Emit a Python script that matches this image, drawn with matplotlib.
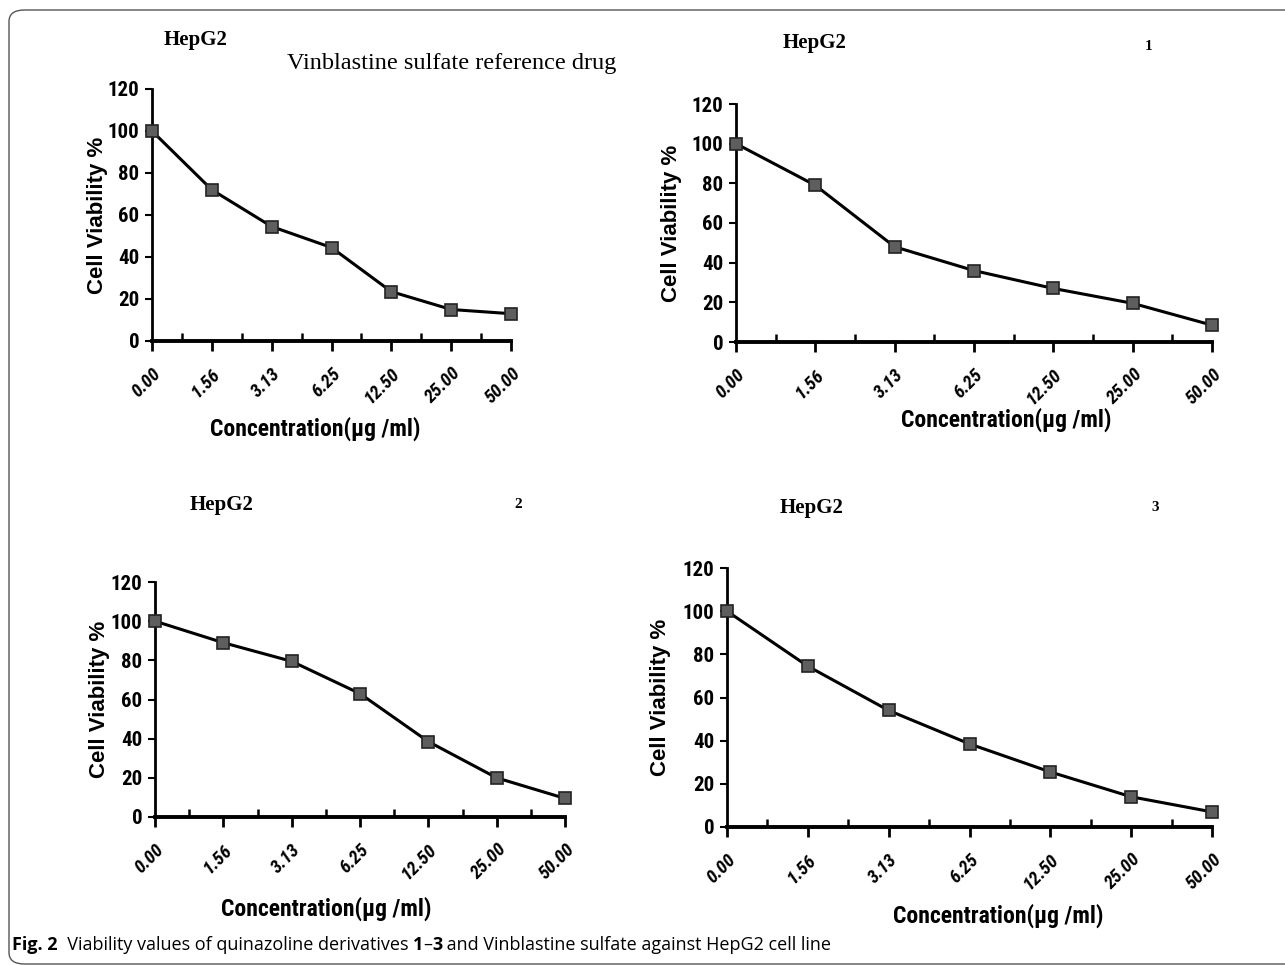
import numpy as np
import matplotlib
matplotlib.use("Agg")
import matplotlib.pyplot as plt
from matplotlib.patches import FancyBboxPatch

conc = ["0.00", "1.56", "3.13", "6.25", "12.50", "25.00", "50.00"]
vinblastine = [100, 72, 54.5, 44.5, 23.5, 15, 13]
comp1 = [100, 79, 48, 36, 27, 19.5, 8.5]
comp2 = [100, 89, 79.5, 63, 38.5, 20, 9.5]
comp3 = [100, 74.5, 54, 38.5, 25.5, 14, 7]
yticks = [0, 20, 40, 60, 80, 100, 120]

W, H = 1285, 966
fig = plt.figure(figsize=(W / 100, H / 100), dpi=100)

# rounded frame around the figure (right side cut off)
frame = FancyBboxPatch((9 / W, 2 / H), 1.2, 1 - 12 / H,
                       boxstyle="round,pad=0,rounding_size=0.012",
                       transform=fig.transFigure, fill=False, lw=1.0,
                       ec="#555555")
fig.patches.append(frame)

narrow = ["Roboto Condensed", "Liberation Sans", "DejaVu Sans"]
serif = ["Liberation Serif", "DejaVu Serif"]


def panel(px, values, title_xy, num_xy, num, ylab_x, xlab_xy):
    l, r, b, t = px
    ax = fig.add_axes([l / W, 1 - b / H, (r - l) / W, (b - t) / H])
    x = np.arange(len(conc))
    ax.plot(x, values, color="black", lw=2.2, marker="s", ms=8,
            mfc="#5e5e5e", mec="#222222", mew=1.2, clip_on=False, zorder=3)
    ax.set_xlim(0, len(conc) - 1)
    ax.set_ylim(0, 120)
    for s in ["top", "right"]:
        ax.spines[s].set_visible(False)
    ax.spines["left"].set_linewidth(2)
    ax.spines["bottom"].set_linewidth(2.8)
    ax.set_yticks(yticks)
    ax.set_yticklabels([str(v) for v in yticks], family=narrow,
                       fontweight="bold", fontsize=15)
    ax.tick_params(axis="y", direction="out", length=5, width=1.5, pad=4)
    ax.set_xticks(x)
    ax.set_xticklabels(conc, rotation=45, ha="right", va="top",
                       rotation_mode="anchor", family=narrow,
                       fontweight="bold", style="italic", fontsize=13.5)
    ax.set_xticks(x[:-1] + 0.5, minor=True)
    ax.tick_params(axis="x", which="major", direction="out", length=7,
                   width=2, pad=10)
    ax.tick_params(axis="x", which="minor", direction="in", length=6,
                   width=1.8)
    fig.text(ylab_x / W, 1 - (t + b) / 2 / H, "Cell Viability %",
             rotation=90, ha="center", va="center", family="Liberation Sans",
             fontweight="bold", fontsize=16)
    fig.text(xlab_xy[0] / W, 1 - xlab_xy[1] / H, "Concentration(\u00b5g /ml)",
             ha="center", va="center", family=narrow, fontweight="bold",
             fontsize=17)
    fig.text(title_xy[0] / W, 1 - title_xy[1] / H, "HepG2", ha="center",
             va="center", family=serif, fontweight="bold", fontsize=15)
    if num:
        fig.text(num_xy[0] / W, 1 - num_xy[1] / H, num, ha="center",
                 va="center", family=serif, fontweight="bold", fontsize=11)
    return ax


panel((152, 511, 341, 89), vinblastine, (196, 40), None, None, 97, (315, 429))
fig.text(452 / W, 1 - 64 / H, "Vinblastine sulfate reference drug",
         ha="center", va="center", family=serif, fontsize=17.5)
panel((736, 1212, 342, 104), comp1, (815, 43), (1149, 46), "1", 671, (1006, 420))
panel((155, 565, 817, 582), comp2, (222, 505), (518, 505), "2", 100, (326, 909))
panel((727, 1212, 827, 568), comp3, (812, 508), (1155, 508), "3", 661, (998, 916))

# caption, written piece by piece so that parts can be bold
caption = [("Fig. 2", "bold"), ("  Viability values of quinazoline derivatives ", "normal"),
           ("1", "bold"), ("\u2013", "normal"), ("3", "bold"),
           (" and Vinblastine sulfate against HepG2 cell line", "normal")]
renderer = fig.canvas.get_renderer()
xpos = 12
for txt, wt in caption:
    t = fig.text(xpos / W, 1 - 945 / H, txt, ha="left", va="center",
                 family="Open Sans", fontsize=13, fontweight=wt)
    xpos += t.get_window_extent(renderer).width

fig.savefig("out.png", dpi=100)
